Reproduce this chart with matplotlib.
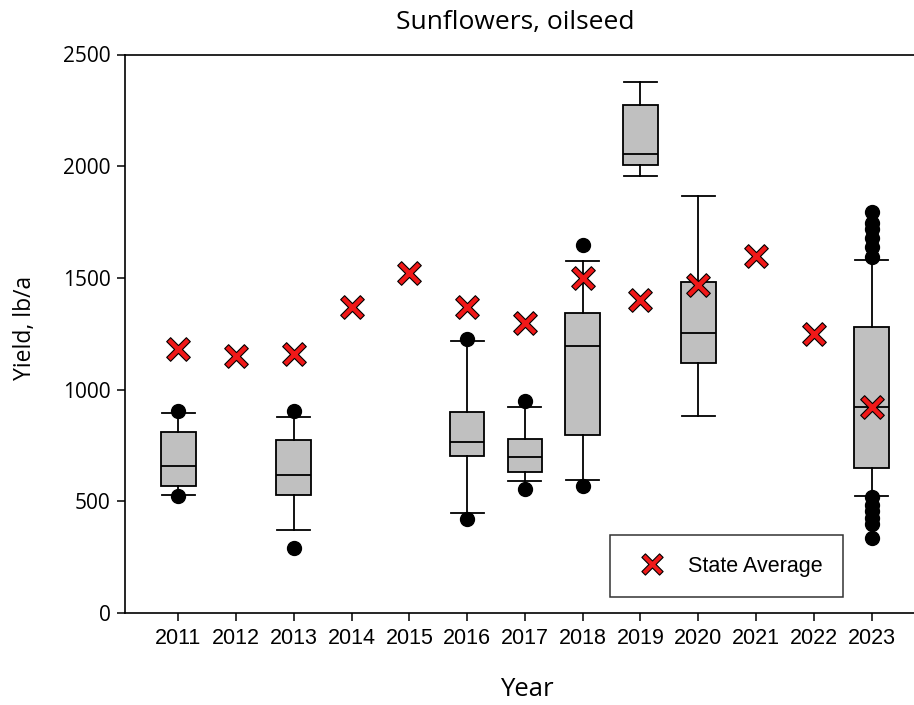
import matplotlib
matplotlib.use("Agg")
import matplotlib.pyplot as plt
import numpy as np
from matplotlib.path import Path

# State average yield, lb/a, every year
years = [2011, 2012, 2013, 2014, 2015, 2016, 2017, 2018, 2019, 2020, 2021, 2022, 2023]
state_avg = [1180, 1150, 1160, 1370, 1520, 1370, 1300, 1500, 1400, 1470, 1600, 1250, 920]

# trial yields summarised as box plots (years with trials only)
box_years = [2011, 2013, 2016, 2017, 2018, 2019, 2020, 2023]
p10 = [528, 371, 449, 590, 595, 1954, 884, 523]
q1 = [569, 529, 703, 631, 799, 2005, 1121, 650]
med = [656, 617, 765, 698, 1196, 2056, 1254, 921]
q3 = [811, 774, 900, 781, 1345, 2275, 1483, 1282]
p90 = [897, 877, 1216, 924, 1574, 2376, 1865, 1582]
outliers = [
    [906, 525],
    [906, 292],
    [1227, 422],
    [948, 553],
    [1646, 568],
    [],
    [],
    [1795, 1745, 1720, 1680, 1640, 1592, 520, 485, 455, 425, 400, 335],
]

stats = []
for i in range(len(box_years)):
    stats.append(dict(whislo=p10[i], q1=q1[i], med=med[i], q3=q3[i],
                      whishi=p90[i], fliers=outliers[i]))

# thin X marker with outline
a = 0.1
plus = np.array([(-a, 0.5), (a, 0.5), (a, a), (0.5, a), (0.5, -a), (a, -a),
                 (a, -0.5), (-a, -0.5), (-a, -a), (-0.5, -a), (-0.5, a), (-a, a)])
c, s = np.cos(np.pi / 4), np.sin(np.pi / 4)
rot = plus @ np.array([[c, s], [-s, c]])
xmark = Path(np.vstack([rot, rot[:1]]), closed=True)

fig = plt.figure(figsize=(9.14, 7.05), dpi=100)
ax = fig.add_axes([125 / 914, 92 / 705, 790 / 914, 558.5 / 705])

ax.bxp(stats, positions=box_years, widths=0.6, capwidths=0.57, patch_artist=True,
       boxprops=dict(facecolor="#c0c0c0", edgecolor="black", linewidth=1.3),
       medianprops=dict(color="black", linewidth=1.3),
       whiskerprops=dict(color="black", linewidth=1.3),
       capprops=dict(color="black", linewidth=1.3),
       flierprops=dict(marker="o", markerfacecolor="black", markeredgecolor="black",
                       markersize=10))

ax.plot(years, state_avg, linestyle="none", marker=xmark, markersize=17,
        markerfacecolor="#f01818", markeredgecolor="black", markeredgewidth=0.8,
        label="State Average", zorder=5)

ax.set_xlim(2010.08, 2023.75)
ax.set_ylim(0, 2500)
ax.set_xticks(years)
ax.set_xticklabels([str(y) for y in years], fontfamily="Liberation Sans", fontsize=15.5)
ax.set_yticks([0, 500, 1000, 1500, 2000, 2500])
ax.set_yticklabels(["0", "500", "1000", "1500", "2000", "2500"],
                   fontfamily="Open Sans", fontsize=15)
ax.tick_params(direction="out", length=5.5, width=1.1, pad=5)
for sp in ax.spines.values():
    sp.set_linewidth(1.2)

leg = ax.legend(loc="lower left", bbox_to_anchor=(485 / 790, 16 / 558.5, 233 / 790, 62 / 558.5),
                mode="expand", frameon=True, fancybox=False, edgecolor="black",
                prop=dict(family="Liberation Sans", size=15.5), borderpad=0.95,
                borderaxespad=0, handletextpad=0.65, markerscale=0.9)
leg.get_frame().set_linewidth(1.1)

fig.text(515 / 914, 1 - 22 / 705, "Sunflowers, oilseed", ha="center", va="center",
         fontfamily="Open Sans", fontsize=19)
fig.text(25 / 914, 1 - 328 / 705, "Yield, lb/a", ha="center", va="center",
         rotation=90, fontfamily="Open Sans", fontsize=16.5)
fig.text(527 / 914, 1 - 690 / 705, "Year", ha="center", va="center",
         fontfamily="Open Sans", fontsize=18.5)

fig.savefig("out.png", dpi=100)
